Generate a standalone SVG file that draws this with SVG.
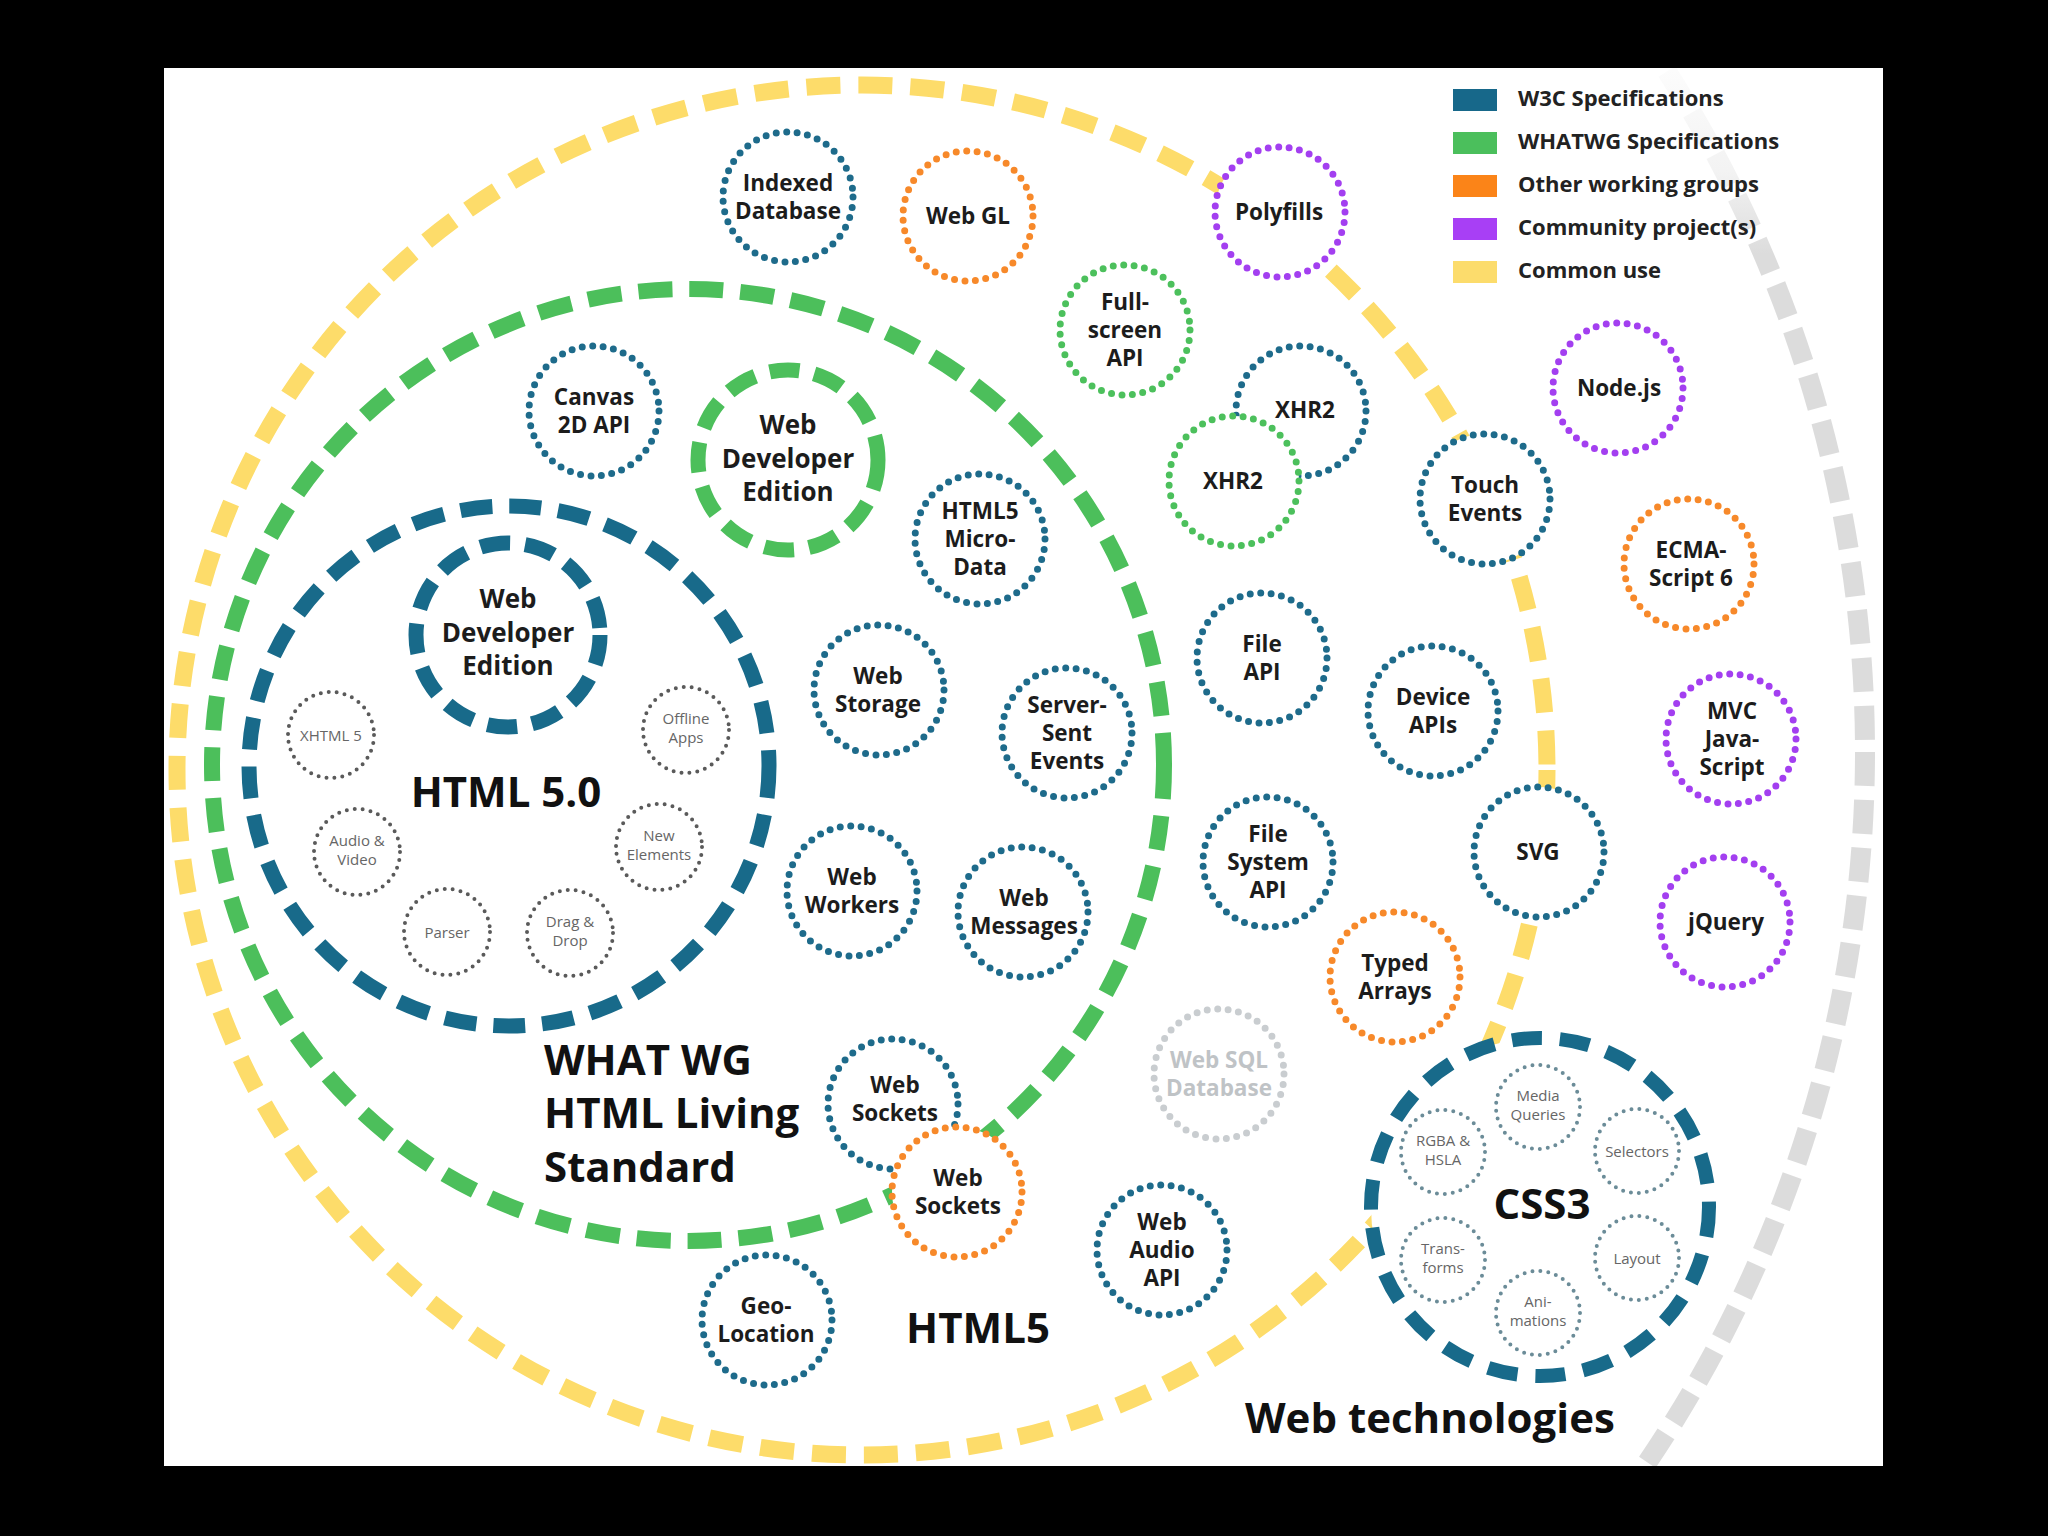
<svg xmlns="http://www.w3.org/2000/svg" width="2048" height="1536" viewBox="0 0 2048 1536">
  <defs>
    <clipPath id="paper">
      <rect x="164" y="68" width="1719" height="1398"/>
    </clipPath>
    <linearGradient id="grayFade" gradientUnits="userSpaceOnUse" x1="0" y1="68" x2="0" y2="300">
      <stop offset="0" stop-color="#dcdcdc" stop-opacity="0.08"/>
      <stop offset="0.45" stop-color="#dcdcdc" stop-opacity="0.35"/>
      <stop offset="0.8" stop-color="#dcdcdc" stop-opacity="1"/>
      <stop offset="1" stop-color="#dcdcdc" stop-opacity="1"/>
    </linearGradient>
    <style>
      .ring { fill: none; }
      .ring-gray { stroke: url(#grayFade); stroke-width: 20; stroke-dasharray: 34 14; }
      .ring-y { stroke: #fddc6a; stroke-width: 17; stroke-dasharray: 34 18; }
      .ring-g { stroke: #4cbf5b; stroke-width: 16; stroke-dasharray: 34 17; }
      .ring-b { stroke: #186a8a; stroke-width: 15; stroke-dasharray: 32 17; }
      .wde { stroke-width: 15; stroke-dasharray: 30 15; fill: #fff; }
      .wde-b { stroke: #186a8a; }
      .wde-g { stroke: #4cbf5b; }
      .css3 { fill: #fff; stroke: #186a8a; stroke-width: 14; stroke-dasharray: 30 18; }
      .n { fill: #fff; stroke-width: 7; stroke-linecap: round; stroke-dasharray: 0 10.5; }
      .w3c { stroke: #1e6b8b; }
      .wg { stroke: #4cc05c; }
      .ow { stroke: #f7892a; }
      .cp { stroke: #a33ff0; }
      .sql { stroke: #c9cdd0; }
      .s { fill: #fff; stroke-width: 4; stroke-linecap: round; stroke-dasharray: 0 8; }
      .s-h { stroke: #5a5a5a; }
      .s-c { stroke: #6b8c98; }
      .t { font-family: "Open Sans", "Liberation Sans", sans-serif; font-weight: 700; font-size: 22.5px; fill: #1c1c1c; text-anchor: middle; }
      .t-gray { fill: #bfc3c6; }
      .st { font-family: "Open Sans", "Liberation Sans", sans-serif; font-weight: 400; font-size: 15px; fill: #666; text-anchor: middle; }
      .wt { font-family: "Open Sans", "Liberation Sans", sans-serif; font-weight: 700; font-size: 26px; fill: #1c1c1c; text-anchor: middle; }
      .big { font-family: "Open Sans", "Liberation Sans", sans-serif; font-weight: 700; font-size: 42px; fill: #111; }
      .lg { font-family: "Open Sans", "Liberation Sans", sans-serif; font-weight: 700; font-size: 22px; fill: #222; }
    </style>
  </defs>

  <rect x="0" y="0" width="2048" height="1536" fill="#000"/>
  <rect x="164" y="68" width="1719" height="1398" fill="#fff"/>

  <g clip-path="url(#paper)">
    <!-- grouping rings -->
    <g id="ring-web-technologies">
      <circle class="ring ring-gray" cx="597" cy="752" r="1268"/>
    </g>
    <g id="ring-html5-common-use">
      <circle class="ring ring-y" cx="862" cy="770" r="685"/>
    </g>
    <g id="ring-whatwg">
      <circle class="ring ring-g" cx="688" cy="765" r="476"/>
    </g>
    <g id="ring-html50">
      <circle class="ring ring-b" cx="509" cy="766" r="260"/>
    </g>

    <!-- Legend -->
    <g id="legend">
      <rect x="1453" y="89" width="44" height="22" fill="#17688a"/>
      <text class="lg" x="1518" y="106">W3C Specifications</text>
      <rect x="1453" y="132" width="44" height="22" fill="#4bbf5c"/>
      <text class="lg" x="1518" y="149">WHATWG Specifications</text>
      <rect x="1453" y="175" width="44" height="22" fill="#fb8418"/>
      <text class="lg" x="1518" y="192">Other working groups</text>
      <rect x="1453" y="218" width="44" height="22" fill="#a83ff5"/>
      <text class="lg" x="1518" y="235">Community project(s)</text>
      <rect x="1453" y="261" width="44" height="22" fill="#fcdc6c"/>
      <text class="lg" x="1518" y="278">Common use</text>
    </g>

    <!-- Ring titles -->
    <g id="label-html50"><text class="big" x="506" y="807" text-anchor="middle">HTML 5.0</text></g>
    <g id="label-whatwg">
      <text class="big" x="544" y="1075" font-size="39.5">WHAT WG</text>
      <text class="big" x="544" y="1128" font-size="39.5">HTML Living</text>
      <text class="big" x="544" y="1182" font-size="39.5">Standard</text>
    </g>
    <g id="label-html5"><text class="big" x="978" y="1343" text-anchor="middle">HTML5</text></g>
    <g id="label-web-technologies"><text class="big" x="1245" y="1433">Web technologies</text></g>

    <!-- Web Developer Edition (W3C) -->
    <g id="wde-w3c">
      <circle class="wde wde-b" cx="508" cy="635" r="92"/>
      <text class="wt" x="508" y="608">Web</text>
      <text class="wt" x="508" y="642">Developer</text>
      <text class="wt" x="508" y="675">Edition</text>
    </g>
    <!-- Web Developer Edition (WHATWG) -->
    <g id="wde-whatwg">
      <circle class="wde wde-g" cx="788" cy="460" r="90"/>
      <text class="wt" x="788" y="434">Web</text>
      <text class="wt" x="788" y="468">Developer</text>
      <text class="wt" x="788" y="501">Edition</text>
    </g>

    <!-- HTML 5.0 features -->
    <g id="f-xhtml5"><circle class="s s-h" cx="331" cy="735" r="43"/><text class="st" x="331" y="740.5">XHTML 5</text></g>
    <g id="f-offline"><circle class="s s-h" cx="686" cy="730" r="43"/><text class="st" x="686" y="724">Offline</text><text class="st" x="686" y="743">Apps</text></g>
    <g id="f-audio"><circle class="s s-h" cx="357" cy="852" r="43"/><text class="st" x="357" y="846">Audio &amp;</text><text class="st" x="357" y="865">Video</text></g>
    <g id="f-newel"><circle class="s s-h" cx="659" cy="847" r="43"/><text class="st" x="659" y="841">New</text><text class="st" x="659" y="860">Elements</text></g>
    <g id="f-parser"><circle class="s s-h" cx="447" cy="932" r="43"/><text class="st" x="447" y="937.5">Parser</text></g>
    <g id="f-dnd"><circle class="s s-h" cx="570" cy="933" r="43"/><text class="st" x="570" y="927">Drag &amp;</text><text class="st" x="570" y="946">Drop</text></g>

    <!-- Nodes -->
    <g id="n-indexeddb"><circle class="n w3c" cx="788" cy="197" r="65"/><text class="t" x="788" y="191">Indexed</text><text class="t" x="788" y="219">Database</text></g>
    <g id="n-webgl"><circle class="n ow" cx="968" cy="216" r="65"/><text class="t" x="968" y="224">Web GL</text></g>
    <g id="n-polyfills"><circle class="n cp" cx="1280" cy="212" r="65"/><text class="t" x="1279" y="220">Polyfills</text></g>
    <g id="n-fullscreen"><circle class="n wg" cx="1125" cy="330" r="65"/><text class="t" x="1125" y="310">Full-</text><text class="t" x="1125" y="338">screen</text><text class="t" x="1125" y="366">API</text></g>
    <g id="n-xhr2-w3c"><circle class="n w3c" cx="1301" cy="411" r="65"/><text class="t" x="1305" y="418">XHR2</text></g>
    <g id="n-xhr2-whatwg"><circle class="n wg" cx="1234" cy="481" r="65"/><text class="t" x="1233" y="489">XHR2</text></g>
    <g id="n-canvas"><circle class="n w3c" cx="594" cy="411" r="65"/><text class="t" x="594" y="405">Canvas</text><text class="t" x="594" y="433">2D API</text></g>
    <g id="n-microdata"><circle class="n w3c" cx="980" cy="539" r="65"/><text class="t" x="980" y="519">HTML5</text><text class="t" x="980" y="547">Micro-</text><text class="t" x="980" y="575">Data</text></g>
    <g id="n-touch"><circle class="n w3c" cx="1485" cy="499" r="65"/><text class="t" x="1485" y="493">Touch</text><text class="t" x="1485" y="521">Events</text></g>
    <g id="n-nodejs"><circle class="n cp" cx="1618" cy="388" r="65"/><text class="t" x="1619" y="396">Node.js</text></g>
    <g id="n-ecma6"><circle class="n ow" cx="1689" cy="564" r="65"/><text class="t" x="1691" y="558">ECMA-</text><text class="t" x="1691" y="586">Script 6</text></g>
    <g id="n-storage"><circle class="n w3c" cx="879" cy="690" r="65"/><text class="t" x="878" y="684">Web</text><text class="t" x="878" y="712">Storage</text></g>
    <g id="n-sse"><circle class="n w3c" cx="1067" cy="733" r="65"/><text class="t" x="1067" y="713">Server-</text><text class="t" x="1067" y="741">Sent</text><text class="t" x="1067" y="769">Events</text></g>
    <g id="n-fileapi"><circle class="n w3c" cx="1262" cy="658" r="65"/><text class="t" x="1262" y="652">File</text><text class="t" x="1262" y="680">API</text></g>
    <g id="n-device"><circle class="n w3c" cx="1433" cy="711" r="65"/><text class="t" x="1433" y="705">Device</text><text class="t" x="1433" y="733">APIs</text></g>
    <g id="n-mvc"><circle class="n cp" cx="1731" cy="739" r="65"/><text class="t" x="1732" y="719">MVC</text><text class="t" x="1732" y="747">Java-</text><text class="t" x="1732" y="775">Script</text></g>
    <g id="n-workers"><circle class="n w3c" cx="852" cy="891" r="65"/><text class="t" x="852" y="885">Web</text><text class="t" x="852" y="913">Workers</text></g>
    <g id="n-messages"><circle class="n w3c" cx="1023" cy="912" r="65"/><text class="t" x="1024" y="906">Web</text><text class="t" x="1024" y="934">Messages</text></g>
    <g id="n-filesystem"><circle class="n w3c" cx="1268" cy="862" r="65"/><text class="t" x="1268" y="842">File</text><text class="t" x="1268" y="870">System</text><text class="t" x="1268" y="898">API</text></g>
    <g id="n-svg"><circle class="n w3c" cx="1539" cy="852" r="65"/><text class="t" x="1538" y="860">SVG</text></g>
    <g id="n-jquery"><circle class="n cp" cx="1725" cy="922" r="65"/><text class="t" x="1726" y="930">jQuery</text></g>
    <g id="n-typed"><circle class="n ow" cx="1395" cy="977" r="65"/><text class="t" x="1395" y="971">Typed</text><text class="t" x="1395" y="999">Arrays</text></g>
    <g id="n-websql"><circle class="n sql" cx="1219" cy="1074" r="65"/><text class="t t-gray" x="1219" y="1068">Web SQL</text><text class="t t-gray" x="1219" y="1096">Database</text></g>
    <g id="n-sockets-w3c"><circle class="n w3c" cx="893" cy="1104" r="65"/><text class="t" x="895" y="1093">Web</text><text class="t" x="895" y="1121">Sockets</text></g>
    <g id="n-sockets-other"><circle class="n ow" cx="957" cy="1192" r="65"/><text class="t" x="958" y="1186">Web</text><text class="t" x="958" y="1214">Sockets</text></g>
    <g id="n-audio"><circle class="n w3c" cx="1162" cy="1250" r="65"/><text class="t" x="1162" y="1230">Web</text><text class="t" x="1162" y="1258">Audio</text><text class="t" x="1162" y="1286">API</text></g>
    <g id="n-geo"><circle class="n w3c" cx="767" cy="1320" r="65"/><text class="t" x="766" y="1314">Geo-</text><text class="t" x="766" y="1342">Location</text></g>

    <!-- CSS3 -->
    <g id="n-css3">
      <circle class="css3" cx="1540" cy="1207" r="169"/>
      <text class="big" x="1542" y="1219" font-size="36" text-anchor="middle">CSS3</text>
    </g>
    <g id="c-media"><circle class="s s-c" cx="1538" cy="1107" r="42"/><text class="st" x="1538" y="1101">Media</text><text class="st" x="1538" y="1120">Queries</text></g>
    <g id="c-rgba"><circle class="s s-c" cx="1443" cy="1152" r="42"/><text class="st" x="1443" y="1146">RGBA &amp;</text><text class="st" x="1443" y="1165">HSLA</text></g>
    <g id="c-selectors"><circle class="s s-c" cx="1637" cy="1151" r="42"/><text class="st" x="1637" y="1156.5">Selectors</text></g>
    <g id="c-transforms"><circle class="s s-c" cx="1443" cy="1260" r="42"/><text class="st" x="1443" y="1254">Trans-</text><text class="st" x="1443" y="1273">forms</text></g>
    <g id="c-layout"><circle class="s s-c" cx="1637" cy="1258" r="42"/><text class="st" x="1637" y="1263.5">Layout</text></g>
    <g id="c-animations"><circle class="s s-c" cx="1538" cy="1313" r="42"/><text class="st" x="1538" y="1307">Ani-</text><text class="st" x="1538" y="1326">mations</text></g>
  </g>
</svg>
